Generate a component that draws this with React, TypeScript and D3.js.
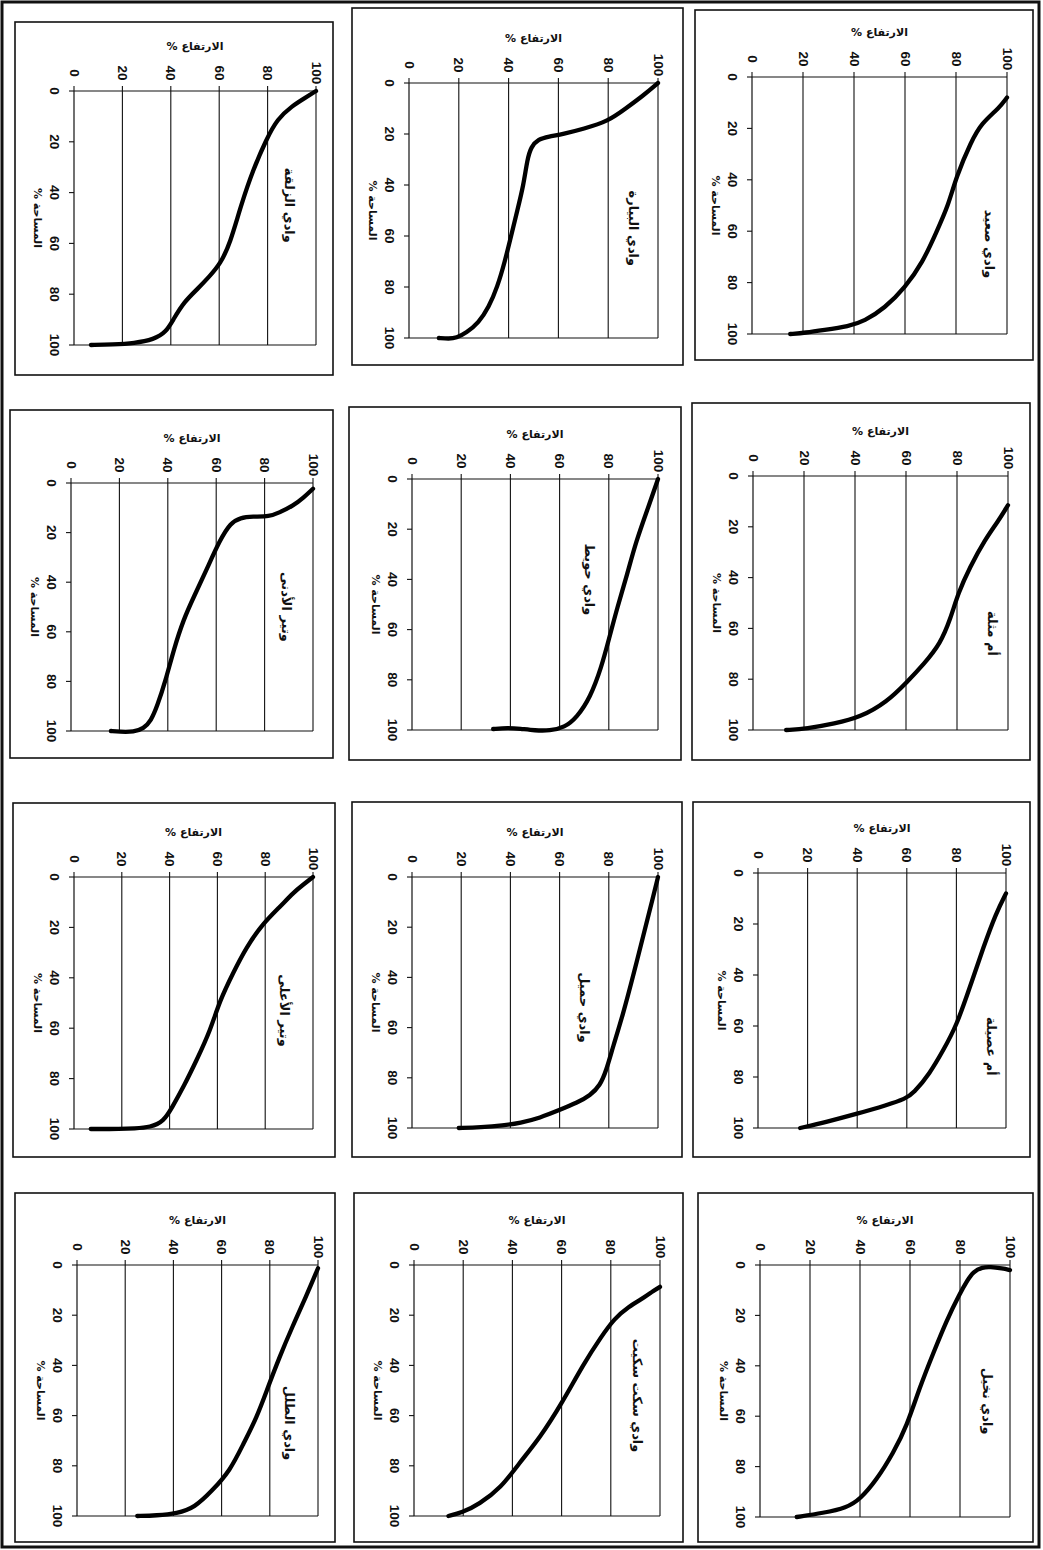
import React from "react";
import * as d3 from "d3";

// ---------- data (area %, elevation %) ----------
const areaTicks = [0, 20, 40, 60, 80, 100];
const elevTicks = [0, 20, 40, 60, 80, 100];
const gridElev = [20, 40, 60, 80, 100];
const elevLabel = "الارتفاع %";
const areaLabel = "المساحة %";

const titles = [
  "وادي الزلقة", "وادي البيارة", "وادي صعيد",
  "وتير الأدنى", "وادي حويط", "أم مثلة",
  "وتير الأعلى", "وادي حميل", "أم عصيلة",
  "وادي الطلل", "وادي سكت سكيت", "وادي نخيل",
];

const wadiZalqa: [number, number][] = [
  [0, 100], [3, 95], [6, 90], [11, 84], [19, 79.5], [31, 74], [45, 69], [60, 64.5],
  [68, 60.5], [73, 56], [78, 51], [83, 45.5], [90, 41], [95, 38], [97.8, 33], [99.3, 25], [99.8, 16], [100, 7],
];
const wadiBiyara: [number, number][] = [
  [0, 100], [5, 94], [10, 87], [15, 80], [18, 70], [20, 62], [21, 56], [22, 52], [25, 49],
  [30, 47.5], [40, 46], [50, 43.5], [60, 41], [70, 38.5], [80, 35.5], [88, 32], [94, 28],
  [98, 23], [100, 19], [100.3, 16], [100, 12],
];
const wadiSaid: [number, number][] = [
  [8, 100], [12, 97], [18, 90], [25, 86], [39, 80], [50, 77], [61, 72], [72, 67], [82, 60],
  [90, 52], [95, 44], [97, 38], [98.5, 28], [99.5, 21], [100, 15],
];
const watirLower: [number, number][] = [
  [2.3, 100], [6, 96], [9, 92], [12, 86], [13.5, 82], [13.5, 75], [14, 70], [16, 66], [23, 61.5],
  [35, 56], [46, 50.7], [55, 46.5], [67, 42.5], [80, 39], [90, 35.6], [96, 33], [99, 30],
  [100.4, 26], [100.3, 20], [100, 16.5],
];
const wadiHuweit: [number, number][] = [
  [0, 100], [10, 96.5], [25, 91], [38, 87.5], [51, 83.5], [64, 80], [75, 77], [87, 72.5],
  [95, 67], [99, 62], [100.3, 56], [100.2, 50], [99.5, 44], [99.1, 39], [99.6, 33],
];
const umMithla: [number, number][] = [
  [11.5, 100], [18, 96], [25, 91], [36, 85], [46, 80.5], [56, 77.5], [66, 73.5], [74, 67],
  [81, 60.5], [89, 52.5], [95, 42], [97.5, 32], [99.5, 21], [100, 13],
];
const watirUpper: [number, number][] = [
  [0, 100], [3, 96], [6, 92], [12, 86], [18.5, 79], [28, 72], [38, 66.6], [49, 61], [61, 57],
  [72.5, 51.4], [83, 46], [91.5, 41], [97, 37.5], [99.3, 32], [99.8, 25], [100, 20], [100, 7],
];
const wadiHumeil: [number, number][] = [
  [0, 100], [10, 97.5], [19.6, 95], [39, 90], [55, 85.7], [68, 81.6], [77, 79], [83, 76.5],
  [87, 72.5], [90, 67], [92.8, 60], [96, 52], [98, 44], [99, 37], [99.7, 28], [100, 19],
];
const umOseila: [number, number][] = [
  [8, 100], [15.7, 96], [28.8, 91], [44.6, 85.5], [60, 80], [69.5, 74.7], [78.6, 69.3],
  [86.5, 62.6], [88.5, 59.5], [91, 52], [94.4, 40], [97.6, 27.6], [100, 17],
];
const wadiTalal: [number, number][] = [
  [1.3, 100], [12.7, 95], [24.7, 89.3], [36.7, 84], [49.3, 79], [60.7, 74.6], [71.3, 69],
  [82, 63.5], [90, 56], [96.7, 48.8], [99, 41.5], [99.8, 33], [100, 25],
];
const wadiSikkit: [number, number][] = [
  [8.7, 100], [10.5, 97], [12.7, 94], [16.7, 87], [21.3, 81.5], [28.7, 76], [39.3, 69],
  [55.3, 60], [68.7, 51.3], [79.3, 42.5], [88.7, 35.4], [95.3, 26.5], [98.7, 19.5], [100, 14],
];
const wadiNakhil: [number, number][] = [
  [2, 100], [1.4, 97], [0.7, 92], [0.9, 89], [2.6, 85.3], [6, 83], [11.2, 80], [21.8, 74.7],
  [35, 69.3], [48.2, 64], [64, 58.7], [74.6, 53.3], [85.2, 46.7], [93, 40], [96.3, 34.7],
  [98.4, 25.3], [100, 14.7],
];

const series = [
  wadiZalqa, wadiBiyara, wadiSaid,
  watirLower, wadiHuweit, umMithla,
  watirUpper, wadiHumeil, umOseila,
  wadiTalal, wadiSikkit, wadiNakhil,
];

// ---------- layout (page is rotated 90° clockwise) ----------
type Layout = { box: number[]; plot: number[]; title: number[] };
const layouts: Layout[] = [
  { box: [15, 22, 333, 375], plot: [74, 91, 316, 345], title: [89, 45] },
  { box: [352, 8, 683, 365], plot: [409, 83, 658, 338], title: [90, 57] },
  { box: [695, 10, 1033, 360], plot: [752, 77, 1007, 334], title: [93, 65] },
  { box: [10, 410, 333, 758], plot: [71, 483, 313, 731], title: [89, 50] },
  { box: [349, 407, 681, 760], plot: [412, 479, 658, 730], title: [72, 40] },
  { box: [692, 403, 1030, 760], plot: [753, 476, 1008, 730], title: [94, 62] },
  { box: [13, 803, 335, 1157], plot: [74, 877, 313, 1129], title: [88, 53] },
  { box: [352, 802, 682, 1157], plot: [412, 877, 658, 1128], title: [70, 52] },
  { box: [693, 802, 1030, 1157], plot: [758, 873, 1006, 1128], title: [94, 68] },
  { box: [15, 1193, 335, 1542], plot: [77, 1265, 318, 1516], title: [88, 63] },
  { box: [354, 1193, 683, 1542], plot: [414, 1265, 660, 1516], title: [91, 52] },
  { box: [698, 1193, 1033, 1542], plot: [760, 1265, 1010, 1517], title: [91, 54] },
];

const tickFont = "'Liberation Sans', Arial, sans-serif";
const arabicFont = "'DejaVu Sans', 'Noto Sans', sans-serif";

function Panel({ data, title, layout }: { data: [number, number][]; title: string; layout: Layout }) {
  const [bx0, by0, bx1, by1] = layout.box;
  const [px0, py0, px1, py1] = layout.plot;
  const x = d3.scaleLinear().domain([0, 100]).range([px0, px1]); // elevation
  const y = d3.scaleLinear().domain([0, 100]).range([py0, py1]); // area
  const line = d3
    .line<[number, number]>()
    .x((d) => x(d[1]))
    .y((d) => y(d[0]))
    .curve(d3.curveBasis);
  const tx = x(layout.title[0]);
  const ty = y(layout.title[1]);
  const ax = px0 - 37;
  const ay = y(50);
  return (
    <g>
      <rect x={bx0} y={by0} width={bx1 - bx0} height={by1 - by0} fill="#fff" stroke="#111" strokeWidth={1.6} />
      <line x1={px0} x2={px1} y1={y(0)} y2={y(0)} stroke="#111" strokeWidth={1.2} />
      <line x1={px0} x2={px1} y1={y(100)} y2={y(100)} stroke="#111" strokeWidth={1.2} />
      <line x1={px0} x2={px0} y1={py0} y2={py1} stroke="#111" strokeWidth={1.2} />
      {gridElev.map((v) => (
        <line key={"g" + v} x1={x(v)} x2={x(v)} y1={py0} y2={py1} stroke="#111" strokeWidth={1.1} />
      ))}
      {areaTicks.map((v) => (
        <g key={"a" + v}>
          <line x1={px0 - 5} x2={px0} y1={y(v)} y2={y(v)} stroke="#111" strokeWidth={1.1} />
          <text
            x={px0 - 20}
            y={y(v)}
            transform={`rotate(90, ${px0 - 20}, ${y(v)})`}
            textAnchor="middle"
            dominantBaseline="central"
            fontFamily={tickFont}
            fontWeight="bold"
            fontSize={13.5}
            fill="#111"
          >
            {v}
          </text>
        </g>
      ))}
      {elevTicks.map((v) => (
        <g key={"e" + v}>
          <line x1={x(v)} x2={x(v)} y1={py0 - 5} y2={py0} stroke="#111" strokeWidth={1.1} />
          <text
            x={x(v)}
            y={py0 - 18}
            transform={`rotate(90, ${x(v)}, ${py0 - 18})`}
            textAnchor="middle"
            dominantBaseline="central"
            fontFamily={tickFont}
            fontWeight="bold"
            fontSize={13.5}
            fill="#111"
          >
            {v}
          </text>
        </g>
      ))}
      <text
        x={(px0 + px1) / 2}
        y={py0 - 45}
        textAnchor="middle"
        dominantBaseline="central"
        fontFamily={arabicFont}
        fontWeight="bold"
        fontSize={11}
        direction="rtl"
        fill="#111"
      >
        {elevLabel}
      </text>
      <text
        x={ax}
        y={ay}
        transform={`rotate(90, ${ax}, ${ay})`}
        textAnchor="middle"
        dominantBaseline="central"
        fontFamily={arabicFont}
        fontWeight="bold"
        fontSize={11}
        direction="rtl"
        fill="#111"
      >
        {areaLabel}
      </text>
      <text
        x={tx}
        y={ty}
        transform={`rotate(90, ${tx}, ${ty})`}
        textAnchor="middle"
        dominantBaseline="central"
        fontFamily={arabicFont}
        fontWeight="bold"
        fontSize={13}
        direction="rtl"
        fill="#111"
      >
        {title}
      </text>
      <path d={line(data) || ""} fill="none" stroke="#000" strokeWidth={4.3} strokeLinecap="round" strokeLinejoin="round" />
    </g>
  );
}

export default function App() {
  return (
    <svg
      width={1043}
      height={1550}
      style={{ position: "absolute", left: 0, top: 0, display: "block", background: "#fff" }}
    >
      <rect x={0} y={0} width={1043} height={1550} fill="#fff" />
      <rect x={2} y={2} width={1037} height={1545} fill="none" stroke="#111" strokeWidth={3} />
      {series.map((d, i) => (
        <Panel key={i} data={d} title={titles[i]} layout={layouts[i]} />
      ))}
    </svg>
  );
}
